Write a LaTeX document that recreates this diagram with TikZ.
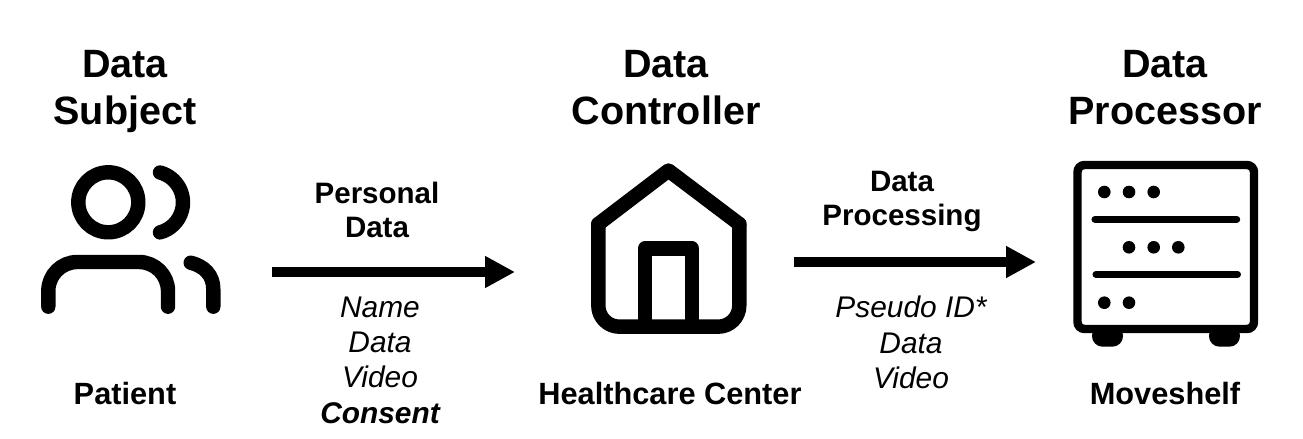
\documentclass[tikz,border=0pt]{standalone}
\usepackage{fontspec}
\setmainfont{Liberation Sans}
\usetikzlibrary{arrows.meta}
\tikzset{
  roletext/.style={font=\bfseries\fontsize{22.5}{26.6}\selectfont,align=center},
  sitetext/.style={font=\bfseries\fontsize{17.5}{20}\selectfont},
  flowtext/.style={font=\bfseries\fontsize{16.8}{19.4}\selectfont,align=center},
  itemtext/.style={font=\itshape\fontsize{17}{20.1}\selectfont,align=center},
  icon/.style={line width=8.2pt,line cap=round,line join=round},
  flow/.style={line width=5.6pt,-{Triangle[length=17pt,width=17pt]}}
}
\begin{document}
\begin{tikzpicture}[x=0.02cm,y=-0.02cm]
\useasboundingbox (0,0) rectangle (1303,439);

% Data subject
\node[roletext] (subject) at (125,91.5) {Data\\Subject};
\draw[icon] (108.3,202.3) circle (30);
\draw[icon] (160,172.5) arc[start angle=-75,end angle=75,radius=31];
\draw[icon] (48.3,306.7) -- (48.3,291) arc[start angle=180,end angle=270,radius=29] -- (139,262) arc[start angle=270,end angle=360,radius=29] -- (168,306.7);
\draw[icon] (190.7,262.7) .. controls (204,266) and (213.3,275) .. (213.3,289) -- (213.3,306.7);
\node[sitetext] (patient) at (125,394) {Patient};

% Data controller
\node[roletext] (controller) at (666,87.5) {Data\\Controller};
\draw[icon,rounded corners=12pt] (598.3,224) -- (598.3,326.7) -- (739.3,326.7) -- (739.3,224);
\draw[icon] (598.3,224) -- (668.5,170.5) -- (739.3,224);
\draw[icon] (645,326.7) -- (645,248.3) -- (691.7,248.3) -- (691.7,326.7);
\node[sitetext] (center) at (670,394) {Healthcare Center};

% Data processor
\node[roletext] (processor) at (1165,87.5) {Data\\Processor};
\fill[rounded corners=6pt] (1092,325) -- (1092,346.7) -- (1123,346.7) -- (1123,325) -- cycle;
\fill[rounded corners=6pt] (1209,325) -- (1209,346.7) -- (1240,346.7) -- (1240,325) -- cycle;
\draw[line width=4.8pt,rounded corners=4pt,fill=white] (1077.5,165) rectangle (1254,329);
\draw[line width=4pt,line cap=round] (1095,219.3) -- (1236.7,219.3);
\draw[line width=4pt,line cap=round] (1096,274.3) -- (1237.5,274.3);
\foreach \px/\py in {1104.3/192,1129/192,1153.7/192,1129/247.3,1153.7/247.3,1178.3/247.3,1104.3/302.7,1129/302.7}
  \fill (\px,\py) circle (6.3);
\node[sitetext] (moveshelf) at (1165,394) {Moveshelf};

% Flows
\coordinate (subjectout) at (272,272);
\coordinate (controllerin) at (515,272);
\coordinate (controllerout) at (794,262);
\coordinate (processorin) at (1036,262);
\draw[flow] (subjectout) -- (controllerin);
\draw[flow] (controllerout) -- (processorin);

% Flow labels
\node[flowtext] (personal) at (377,210) {Personal\\Data};
\node[itemtext] (shared) at (380,360) {Name\\Data\\Video\\\textbf{Consent}};
\node[flowtext] (processing) at (902,201.5) {Data\\Processing};
\node[itemtext] (pseudo) at (911,342.5) {Pseudo ID*\\Data\\Video};
\end{tikzpicture}
\end{document}
